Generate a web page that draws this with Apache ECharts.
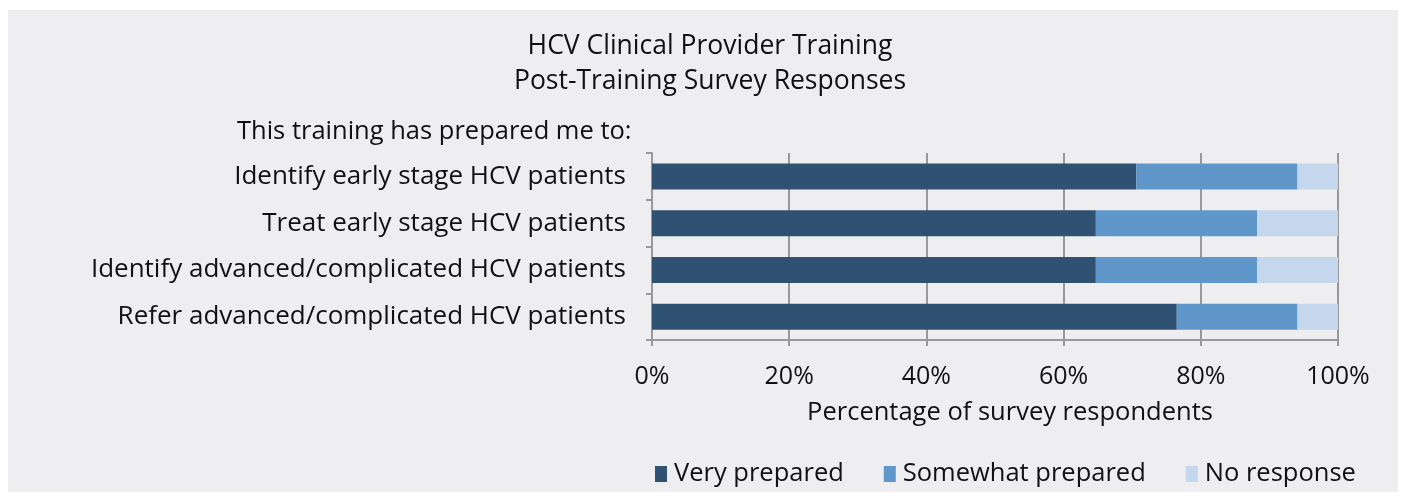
<!DOCTYPE html>
<html>
<head>
<meta charset="utf-8">
<script src="https://cdn.jsdelivr.net/npm/echarts@6/dist/echarts.min.js"></script>
<style>
  html, body { margin: 0; padding: 0; background: #ffffff; }
  #diagram { width: 1404px; height: 501px; }
</style>
</head>
<body>
<div id="diagram"></div>
<script>
var categories = [
  "Identify early stage HCV patients",
  "Treat early stage HCV patients",
  "Identify advanced/complicated HCV patients",
  "Refer advanced/complicated HCV patients"
];
var veryPrepared = [70.6, 64.7, 64.7, 76.5];
var somewhatPrepared = [23.5, 23.5, 23.5, 17.6];
var noResponse = [5.9, 11.8, 11.8, 5.9];
var seriesNames = ["Very prepared", "Somewhat prepared", "No response"];

var font = "Open Sans";
var myChart = echarts.init(document.getElementById("diagram"));
var option = {
  color: ["#2F5273", "#6097CA", "#C5D7EC"],
  textStyle: { fontFamily: font },
  graphic: [
    {
      type: "rect",
      z: -10,
      shape: { x: 8, y: 10, width: 1390, height: 482 },
      style: { fill: "#EEEEF0" }
    }
  ],
  title: [
    {
      text: "HCV Clinical Provider Training\nPost-Training Survey Responses",
      left: 705,
      top: 24,
      textAlign: "center",
      textStyle: { fontFamily: font, fontSize: 26.5, fontWeight: "normal", color: "#111", lineHeight: 35 }
    },
    {
      text: "This training has prepared me to:",
      left: 232,
      top: 114,
      textStyle: { fontFamily: font, fontSize: 25.5, fontWeight: "normal", color: "#111" }
    }
  ],
  legend: {
    data: seriesNames,
    left: 650,
    top: 456,
    itemWidth: 12,
    itemHeight: 16,
    itemGap: 40,
    icon: "rect",
    textStyle: { fontFamily: font, fontSize: 25.5, color: "#111", padding: [0, 0, 0, 2] }
  },
  grid: { left: 652, right: 66, top: 153, bottom: 161, containLabel: false },
  xAxis: {
    type: "value",
    min: 0,
    max: 100,
    interval: 20,
    name: "Percentage of survey respondents",
    nameLocation: "middle",
    nameGap: 60,
    nameTextStyle: { fontFamily: font, fontSize: 25.5, color: "#111", padding: [0, 0, 0, 30] },
    axisLine: { show: true, lineStyle: { color: "#999", width: 2 } },
    axisTick: { show: true, length: 6, lineStyle: { color: "#999", width: 2 } },
    axisLabel: { formatter: "{value}%", fontFamily: font, fontSize: 25, color: "#111", margin: 24 },
    splitLine: { show: true, lineStyle: { color: "#999", width: 2 } }
  },
  yAxis: {
    type: "category",
    data: categories,
    inverse: true,
    axisLine: { show: true, lineStyle: { color: "#999", width: 2 } },
    axisTick: { show: true, length: 6, lineStyle: { color: "#999", width: 2 } },
    axisLabel: { fontFamily: font, fontSize: 26, color: "#111", margin: 26 }
  },
  series: [
    { name: seriesNames[0], type: "bar", stack: "total", data: veryPrepared, barWidth: 26 },
    { name: seriesNames[1], type: "bar", stack: "total", data: somewhatPrepared, barWidth: 26 },
    { name: seriesNames[2], type: "bar", stack: "total", data: noResponse, barWidth: 26 }
  ]
};
myChart.setOption(option);
</script>
</body>
</html>
